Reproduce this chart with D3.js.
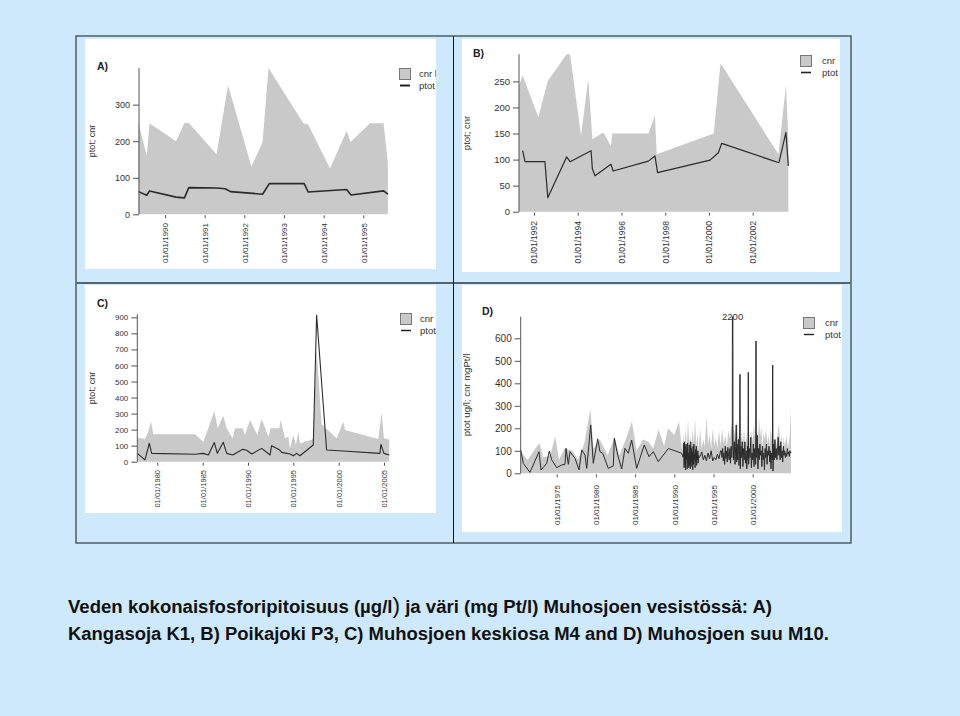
<!DOCTYPE html>
<html><head><meta charset="utf-8">
<script src="https://cdn.jsdelivr.net/npm/d3@7"></script>
<style>
body{margin:0;background:#cde9fb;}
svg{display:block;font-family:"Liberation Sans",Arial,sans-serif;}
</style>
</head><body>
<svg id="chart" width="960" height="716"></svg>
<script>
// ---------------- DATA ----------------
// A) Kangasoja K1
const aCnrYears = [1989.33,1989.54,1989.61,1990.28,1990.49,1990.60,1991.30,1991.59,1992.18,1992.46,1992.61,1993.49,1993.61,1994.16,1994.58,1994.68,1995.17,1995.51,1995.62];
const aCnr      = [250,160,249,200,250,250,164,353,130,198,400,249,246,125,228,198,249,249,141];
const aPtotYears= [1989.33,1989.54,1989.61,1990.28,1990.49,1990.60,1991.30,1991.52,1991.65,1992.46,1992.63,1993.51,1993.61,1994.58,1994.69,1995.51,1995.62];
const aPtot     = [62,52,64,47,45,73,72,70,62,55,84,84,61,68,53,64,55];
const aTickYears = [1990,1991,1992,1993,1994,1995];
const aYTicks = [0,100,200,300];

// B) Poikajoki P3
const bCnrYears = [1991.31,1991.48,1992.20,1992.63,1993.49,1993.65,1994.15,1994.48,1994.67,1995.17,1995.52,1995.58,1997.23,1997.53,1997.61,2000.22,2000.53,2003.18,2003.52,2003.63];
const bCnr      = [240,262,181,251,302,302,146,254,139,152,126,150,150,184,110,150,285,110,243,140];
const bPtotYears= [1991.48,1991.59,1992.50,1992.63,1993.49,1993.65,1994.61,1994.67,1994.79,1995.52,1995.62,1997.23,1997.53,1997.65,2000.05,2000.43,2000.58,2003.20,2003.52,2003.63];
const bPtot     = [117,96,96,27,105,96,117,82,69,91,78,97,107,75,99,113,131,94,152,88];
const bTickYears = [1992,1994,1996,1998,2000,2002];
const bYTicks = [0,50,100,150,200,250];

// C) Muhosjoen keskiosa M4
const cCnrYears = [1977.80,1978.64,1979.00,1979.31,1979.56,1984.16,1985.07,1985.63,1986.29,1986.66,1987.28,1987.65,1988.31,1988.57,1989.42,1989.67,1990.22,1991.03,1991.51,1992.24,1992.50,1993.45,1993.60,1994.08,1994.45,1994.63,1995.00,1995.29,1995.55,1995.73,1997.20,1997.57,1998.12,1999.78,2000.51,2000.70,2004.37,2004.74,2004.99,2005.58];
const cCnr      = [150,141,187,249,171,171,125,208,316,208,287,208,146,208,208,166,260,166,266,156,208,208,260,146,156,83,166,104,187,114,141,700,233,146,249,197,141,306,146,139];
const cPtotYears= [1977.80,1978.64,1979.12,1979.38,1984.16,1985.07,1985.63,1986.29,1986.62,1987.28,1987.65,1988.31,1989.42,1989.86,1990.41,1991.51,1992.43,1992.61,1993.45,1993.72,1994.63,1995.00,1995.36,1995.73,1997.20,1997.57,1998.67,2000.51,2004.55,2004.66,2004.99,2005.58];
const cPtot     = [52,11,115,52,46,52,42,119,52,121,52,42,77,71,48,83,42,100,75,58,48,37,52,37,104,915,73,67,52,108,52,42];
const cTickYears = [1980,1985,1990,1995,2000,2005];
const cYTicks = [0,100,200,300,400,500,600,700,800,900];

// D) Muhosjoen suu M10
const dCnrYears = [1970.41,1971.3,1972.5,1972.8,1973.3,1974.2,1974.8,1975.3,1976.0,1977.0,1977.7,1978.5,1979.3,1979.7,1980.5,1981.5,1982.4,1983.0,1983.8,1984.6,1985.2,1986.0,1986.7,1987.3,1988.0,1988.7,1989.2,1990.0,1990.6,
  1991.0,1991.15,1991.3,1991.45,1991.6,1991.75,1991.9,1992.05,1992.2,1992.35,1992.5,1992.65,1992.8,1992.95,1993.1,1993.3,1993.5,1993.7,1993.9,1994.1,1994.3,1994.5,1994.7,1994.9,1995.1,1995.3,1995.5,1995.7,1995.9,
  1996.1,1996.3,1996.5,1996.7,1996.9,1997.1,1997.3,1997.45,1997.6,1997.8,1998.0,1998.15,1998.3,1998.45,1998.6,1998.75,1998.9,1999.05,1999.2,1999.35,1999.5,1999.65,1999.8,2000.0,2000.15,2000.3,2000.5,2000.65,2000.8,2000.95,
  2001.1,2001.25,2001.4,2001.55,2001.7,2001.85,2002.0,2002.15,2002.3,2002.45,2002.6,2002.75,2002.9,2003.05,2003.2,2003.35,2003.5,2003.65,2003.8,2003.95,2004.1,2004.3,2004.5,2004.7,2004.88];
const dCnr      = [95,60,120,135,70,80,165,60,110,100,60,130,285,110,150,80,160,80,150,230,100,150,140,110,195,120,200,170,230,
  100,180,110,200,120,240,130,170,110,200,130,245,120,180,100,200,110,150,120,250,130,170,110,200,120,160,110,190,120,
  200,130,170,120,190,150,220,160,200,150,240,140,190,120,180,130,200,110,170,130,220,100,190,140,220,150,200,130,250,160,
  210,120,180,150,200,130,170,120,200,140,160,110,150,120,180,220,130,170,100,160,120,170,110,160,285];
const dPtotYears= [1970.41,1970.74,1971.59,1972.74,1973.0,1973.72,1974.06,1974.36,1975.0,1975.64,1976.06,1976.19,1976.48,1976.70,1977.33,1977.85,1978.19,1978.61,1978.83,1979.34,1979.67,1980.23,1980.52,1980.87,1981.58,1982.22,1982.35,1982.78,1983.29,1983.71,1984.13,1984.56,1985.2,1986.17,1986.77,1987.32,1987.96,1989.24,1990.09,1990.94,
  1991.15,1991.2,1991.25,1991.3,1991.35,1991.4,1991.45,1991.5,1991.55,1991.6,1991.65,1991.7,1991.75,1991.8,1991.85,1991.9,1991.95,1992.0,1992.05,1992.1,1992.15,1992.2,1992.25,1992.3,1992.35,1992.4,1992.45,1992.5,1992.55,1992.6,1992.65,1992.7,1992.75,1992.8,1992.85,1992.9,1992.95,1993.0,1993.05,1993.1,1993.15,
  1993.3,1993.5,1993.7,1993.9,1994.1,1994.3,1994.5,1994.7,1994.9,1995.1,1995.3,1995.5,1995.7,1995.9,
  1996.00,1996.08,1996.17,1996.25,1996.33,1996.42,1996.50,1996.58,1996.67,1996.75,1996.83,1996.92,
  1997.00,1997.08,1997.17,1997.25,1997.33,1997.40,1997.44,1997.48,1997.58,1997.67,1997.75,1997.83,1997.90,1997.95,
  1998.00,1998.08,1998.17,1998.25,1998.33,1998.38,1998.42,1998.50,1998.58,1998.67,1998.75,1998.83,1998.92,
  1999.00,1999.08,1999.17,1999.25,1999.33,1999.40,1999.44,1999.48,1999.58,1999.67,1999.75,1999.83,1999.92,
  2000.00,2000.08,2000.17,2000.25,2000.33,2000.38,2000.42,2000.46,2000.58,2000.67,2000.75,2000.83,2000.92,
  2001.00,2001.08,2001.17,2001.25,2001.33,2001.42,2001.50,2001.58,2001.67,2001.75,2001.83,2001.92,
  2002.00,2002.08,2002.17,2002.25,2002.33,2002.42,2002.51,2002.55,2002.59,2002.67,2002.75,2002.83,2002.92,
  2003.00,2003.08,2003.17,2003.25,2003.33,2003.42,2003.50,2003.58,2003.67,2003.75,2003.83,2003.92,
  2004.00,2004.08,2004.17,2004.25,2004.33,2004.42,2004.50,2004.58,2004.67,2004.75,2004.83,2004.88];
const dPtot     = [104,44,4,96,15,44,99,60,25,37,40,111,40,96,67,15,104,81,22,215,44,153,96,89,22,33,156,81,19,111,89,148,22,126,74,96,52,110,100,89,
  70,135,25,140,40,120,15,130,60,100,20,135,45,90,25,125,35,80,20,140,50,110,30,95,15,120,40,130,60,85,25,105,50,120,35,90,60,100,45,80,70,
  75,95,60,80,55,90,65,100,55,70,60,85,65,100,
  100,70,110,55,90,40,120,65,100,50,115,75,
  60,110,45,120,70,130,2200,160,60,140,40,120,215,50,
  130,60,150,35,100,440,20,120,70,140,30,110,60,
  140,45,100,20,120,60,449,40,110,70,160,25,90,
  60,130,30,110,70,40,588,70,170,20,110,60,130,
  80,100,30,120,60,90,15,110,70,130,40,100,
  80,120,50,100,20,90,60,481,10,130,60,150,70,
  110,60,100,160,80,120,60,140,70,100,50,120,
  80,100,70,90,75,110,85,95,75,100,90,95];
const dTickYears = [1975,1980,1985,1990,1995,2000];
const dYTicks = [0,100,200,300,400,500,600];

const captionLine1a = "Veden kokonaisfosforipitoisuus (µg/l";
const captionLine1b = ")";
const captionLine1c = " ja väri (mg Pt/l) Muhosjoen vesistössä: A)";
const captionLine2 = "Kangasoja K1, B) Poikajoki P3, C) Muhosjoen keskiosa M4 and D) Muhosjoen suu M10.";

// ---------------- LAYOUT ----------------
const panels = [
  {id:"A", label:"A)", cnrYears:aCnrYears, cnr:aCnr, ptotYears:aPtotYears, ptot:aPtot, xTicks:aTickYears, yTicks:aYTicks,
   box:[85,39,436,269], axisX:139, yDom:[0,400], yPix:[214.3,68.1], xAnch:[1990,1995], xPix:[165,363.3],
   labelPos:[97,70], ytitle:"ptot; cnr", ytitleX:95, ytitleY:141, yFont:9, xFont:8, xLabY:223, titleFont:9,
   leg:{x:399,y:68,tx:419,cnr:"cnr l"}, lineW:1.6},
  {id:"B", label:"B)", cnrYears:bCnrYears, cnr:bCnr, ptotYears:bPtotYears, ptot:bPtot, xTicks:bTickYears, yTicks:bYTicks,
   box:[462,39,840,272], axisX:519, yDom:[0,302], yPix:[211.7,54.3], xAnch:[1992,2002], xPix:[534,752.7],
   labelPos:[473,57], ytitle:"ptot; cnr", ytitleX:470, ytitleY:133, yFont:9.5, xFont:8.5, xLabY:221, titleFont:9.5,
   leg:{x:800,y:55,tx:822,cnr:"cnr"}, lineW:1.2},
  {id:"C", label:"C)", cnrYears:cCnrYears, cnr:cCnr, ptotYears:cPtotYears, ptot:cPtot, xTicks:cTickYears, yTicks:cYTicks,
   box:[85,285,436,513], axisX:137.3, yDom:[0,919], yPix:[461.7,314.3], xAnch:[1980,2005], xPix:[157.3,384],
   labelPos:[97,307], ytitle:"ptot; cnr", ytitleX:95, ytitleY:388, yFont:8, xFont:7.5, xLabY:470, titleFont:9,
   leg:{x:400,y:313,tx:420,cnr:"cnr"}, lineW:1.1},
  {id:"D", label:"D)", cnrYears:dCnrYears, cnr:dCnr, ptotYears:dPtotYears, ptot:dPtot, xTicks:dTickYears, yTicks:dYTicks,
   box:[462,285,842,532], axisX:520.7, yDom:[0,696], yPix:[473.3,316.7], xAnch:[1975,2000], xPix:[556.7,752.7],
   labelPos:[482,315], ytitle:"ptot ug/l; cnr mgPt/l", ytitleX:470, ytitleY:395, yFont:10, xFont:8, xLabY:485, titleFont:9.6,
   leg:{x:803,y:317,tx:825,cnr:"cnr"}, lineW:1.0, note:{text:"2200", year:1997.44}}
];

const svg = d3.select("#chart");

// outer frame
svg.append("rect").attr("x",76).attr("y",36).attr("width",775).attr("height",507)
  .attr("fill","none").attr("stroke","#4d5d68").attr("stroke-width",1.5);
svg.append("line").attr("x1",76).attr("x2",851).attr("y1",283).attr("y2",283)
  .attr("stroke","#55656e").attr("stroke-width",2);
svg.append("line").attr("x1",453.5).attr("x2",453.5).attr("y1",36).attr("y2",543)
  .attr("stroke","#111").attr("stroke-width",1);

const defs = svg.append("defs");

panels.forEach(p => {
  const [bx0,by0,bx1,by1] = p.box;
  svg.append("rect").attr("x",bx0).attr("y",by0).attr("width",bx1-bx0).attr("height",by1-by0).attr("fill","#fff");
  defs.append("clipPath").attr("id","clip"+p.id).append("rect")
    .attr("x",bx0).attr("y",by0).attr("width",bx1-bx0).attr("height",by1-by0);
  defs.append("clipPath").attr("id","plot"+p.id).append("rect")
    .attr("x",bx0).attr("y",p.yPix[1]).attr("width",bx1-bx0).attr("height",p.yPix[0]-p.yPix[1]+2);

  const g = svg.append("g").attr("clip-path","url(#clip"+p.id+")");
  const x = d3.scaleLinear().domain(p.xAnch).range(p.xPix);
  const y = d3.scaleLinear().domain(p.yDom).range(p.yPix);

  const cnrData = p.cnrYears.map((t,i)=>({t, v:p.cnr[i]}));
  const ptotData = p.ptotYears.map((t,i)=>({t, v:p.ptot[i]}));

  const pg = g.append("g").attr("clip-path","url(#plot"+p.id+")");
  pg.append("path").datum(cnrData)
    .attr("d", d3.area().x(d=>x(d.t)).y0(y(0)).y1(d=>y(d.v)))
    .attr("fill","#c9c9c9");
  pg.append("path").datum(ptotData)
    .attr("d", d3.line().x(d=>x(d.t)).y(d=>y(d.v)))
    .attr("fill","none").attr("stroke","#2b2b2b").attr("stroke-width",p.lineW).attr("stroke-linejoin","round");

  // y axis
  const ya = g.append("g").attr("transform",`translate(${p.axisX},0)`)
    .call(d3.axisLeft(y).tickValues(p.yTicks).tickSize(6).tickPadding(3).tickFormat(d3.format("d")));
  ya.select(".domain").remove();
  ya.selectAll("line").attr("stroke","#555");
  ya.selectAll("text").attr("font-size",p.yFont).attr("fill","#333").attr("font-family","Liberation Sans, Arial, sans-serif");
  g.append("line").attr("x1",p.axisX).attr("x2",p.axisX).attr("y1",p.yPix[0]).attr("y2",p.yPix[1])
    .attr("stroke","#555").attr("stroke-width",1);

  // x axis
  const xa = g.append("g").attr("transform",`translate(0,${p.yPix[0]+1})`)
    .call(d3.axisBottom(x).tickValues(p.xTicks).tickSize(3).tickFormat(d=>"01/01/"+d));
  xa.select(".domain").remove();
  xa.selectAll("line").attr("stroke","#555");
  xa.selectAll("text").attr("font-size",p.xFont).attr("fill","#333")
    .attr("font-family","Liberation Sans, Arial, sans-serif")
    .attr("text-anchor","end").attr("dy","0.35em")
    .attr("transform",`translate(0,${p.xLabY - p.yPix[0]-1}) rotate(-90)`).attr("x",0).attr("y",0);

  // y title
  g.append("text").attr("transform",`translate(${p.ytitleX},${p.ytitleY}) rotate(-90)`)
    .attr("text-anchor","middle").attr("font-size",p.titleFont).attr("fill","#333").text(p.ytitle);

  // panel label
  g.append("text").attr("x",p.labelPos[0]).attr("y",p.labelPos[1]).attr("font-size",10.5)
    .attr("font-weight","bold").attr("fill","#222").text(p.label);

  // legend
  const L = p.leg;
  g.append("rect").attr("x",L.x+0.5).attr("y",L.y+0.5).attr("width",11).attr("height",11)
    .attr("fill","#c9c9c9").attr("stroke","#777").attr("stroke-width",1);
  g.append("text").attr("x",L.tx).attr("y",L.y+9).attr("font-size",9.5).attr("fill","#333").text(L.cnr);
  g.append("line").attr("x1",L.x+1).attr("x2",L.x+11).attr("y1",L.y+17.5).attr("y2",L.y+17.5)
    .attr("stroke","#222").attr("stroke-width",p.lineW+0.4);
  g.append("text").attr("x",L.tx).attr("y",L.y+20.5).attr("font-size",9.5).attr("fill","#333").text("ptot");

  if (p.note) {
    g.append("text").attr("x",x(p.note.year)).attr("y",p.yPix[1]+3).attr("text-anchor","middle")
      .attr("font-size",9.5).attr("fill","#333").text(p.note.text);
  }
});

// caption
const capFont = "'Liberation Sans Narrow','Liberation Sans',Arial,sans-serif";
const cap1 = svg.append("text").attr("x",68).attr("y",613).attr("font-size",18).attr("font-weight","bold")
  .attr("fill","#111").attr("textLength",704).attr("lengthAdjust","spacingAndGlyphs")
  .attr("font-family",capFont);
cap1.append("tspan").text(captionLine1a);
cap1.append("tspan").attr("font-size",22).attr("font-weight","normal").text(captionLine1b);
cap1.append("tspan").text(captionLine1c);
svg.append("text").attr("x",68).attr("y",640).attr("font-size",18).attr("font-weight","bold")
  .attr("fill","#111").attr("textLength",761).attr("lengthAdjust","spacingAndGlyphs")
  .attr("font-family",capFont)
  .text(captionLine2);
</script>
</body></html>
